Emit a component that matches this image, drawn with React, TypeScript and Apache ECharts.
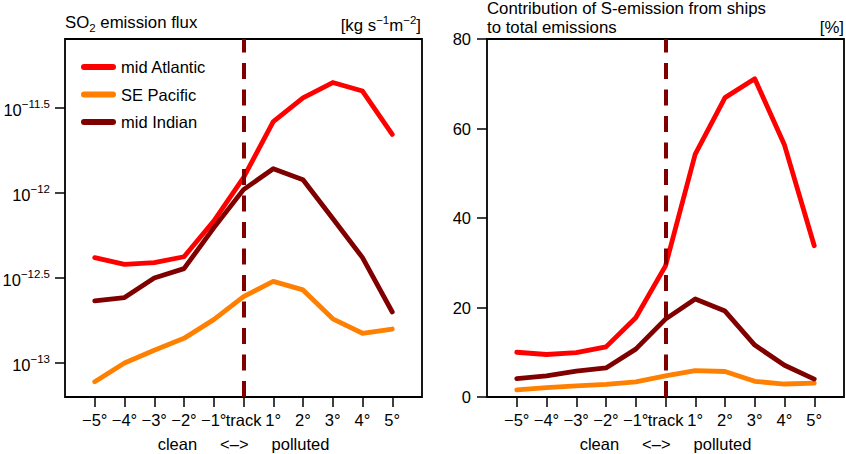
import React, { useEffect, useRef } from "react";
import * as echarts from "echarts";

const FONT = '"Liberation Sans", Arial, Helvetica, sans-serif';

// degrees of latitude away from the ship track
const offsets = [-5, -4, -3, -2, -1, 0, 1, 2, 3, 4, 5];
const offsetLabels = ["−5°", "−4°", "−3°", "−2°", "−1°", "track", "1°", "2°", "3°", "4°", "5°"];

const seriesNames = ["mid Atlantic", "SE Pacific", "mid Indian"];
const colors = ["#ff0000", "#ff8000", "#800000"];

// log10 of the SO2 emission flux [kg s-1 m-2]
const fluxAtlantic = [-12.38, -12.42, -12.41, -12.375, -12.165, -11.91, -11.58, -11.44, -11.35, -11.4, -11.655];
const fluxPacific = [-13.11, -13.0, -12.925, -12.855, -12.745, -12.61, -12.52, -12.57, -12.74, -12.825, -12.8];
const fluxIndian = [-12.635, -12.615, -12.5, -12.445, -12.205, -11.98, -11.857, -11.922, -12.15, -12.38, -12.7];
const fluxTicks = [-13, -12.5, -12, -11.5];

// contribution of S-emission from ships to total emissions [%]
const shareAtlantic = [10.0, 9.5, 9.9, 11.2, 17.7, 29.3, 54.3, 66.9, 71.1, 56.3, 33.8];
const sharePacific = [1.6, 2.1, 2.5, 2.8, 3.4, 4.7, 5.9, 5.7, 3.5, 2.9, 3.1];
const shareIndian = [4.1, 4.7, 5.8, 6.5, 10.7, 17.4, 21.9, 19.2, 11.6, 7.1, 4.0];
const shareTicks = [0, 20, 40, 60, 80];

const toPairs = (vals: number[]) => offsets.map((x, i) => [x, vals[i]]);

const lineSeries = (name: string, color: string, vals: number[], k: number) => ({
  name,
  type: "line",
  xAxisIndex: k,
  yAxisIndex: k,
  data: toPairs(vals),
  symbol: "none",
  z: 3,
  lineStyle: { color, width: 4.8, cap: "round", join: "round" },
  itemStyle: { color },
});

const trackLine = (k: number) => ({
  type: "line",
  xAxisIndex: k,
  yAxisIndex: k,
  data: [],
  z: 5,
  silent: true,
  markLine: {
    symbol: "none",
    silent: true,
    animation: false,
    label: { show: false },
    lineStyle: { color: "#800000", width: 4, type: [16, 10.5], cap: "butt" },
    data: [{ xAxis: 0 }],
  },
});

const tickText = { color: "#000", fontSize: 16.5, fontFamily: FONT, fontWeight: "normal" };
const titleText = { color: "#000", fontSize: 16.8, fontFamily: FONT, fontWeight: "normal" };
const tickStyle = { color: "#000", width: 1.5 };
const TICK_LEN = 10;

const xAxisFor = (k: number) => ({
  type: "value",
  gridIndex: k,
  position: "bottom",
  min: -6,
  max: 6,
  axisLine: { show: false, onZero: false },
  splitLine: { show: false },
  axisTick: { show: true, length: TICK_LEN, customValues: offsets, lineStyle: tickStyle },
  axisLabel: {
    ...tickText,
    margin: 14,
    customValues: offsets,
    formatter: (v: number) => offsetLabels[offsets.indexOf(v)] ?? "",
  },
  name: "{t|clean}{m|<–>}{t|polluted}",
  nameLocation: "middle",
  nameGap: 37,
  nameTextStyle: {
    rich: {
      t: { ...tickText, lineHeight: 20 },
      m: { ...tickText, lineHeight: 20, padding: [0, 23, 0, 23] },
    },
  },
});

const App: React.FC = () => {
  const chartRef = useRef<HTMLDivElement>(null);

  useEffect(() => {
    if (!chartRef.current) return;
    const chart = echarts.init(chartRef.current, undefined, { renderer: "svg" });
    const gridBase = {
      top: 39,
      width: 357,
      height: 358,
      show: true,
      borderColor: "#000",
      borderWidth: 1.8,
      backgroundColor: "transparent",
      outerBoundsMode: "none",
    };
    const option = {
      animation: false,
      title: [
        {
          text: "{a|SO}{b|2}{a| emission flux}",
          left: 65,
          top: 14,
          padding: 0,
          textStyle: {
            ...titleText,
            rich: {
              a: { ...titleText, lineHeight: 20, verticalAlign: "top" },
              b: { ...titleText, fontSize: 11.5, lineHeight: 8, verticalAlign: "bottom" },
            },
          },
        },
        {
          text: "{a|[kg s}{s|−1}{a|m}{s|−2}{a|]}",
          right: 425,
          top: 14,
          padding: 0,
          textStyle: {
            ...titleText,
            rich: {
              a: { ...titleText, lineHeight: 20, verticalAlign: "bottom" },
              s: { ...titleText, fontSize: 11.5, lineHeight: 10, verticalAlign: "top" },
            },
          },
        },
        {
          text: "Contribution of S-emission from ships\nto total emissions",
          left: 487,
          top: -1.5,
          padding: 0,
          textStyle: { ...titleText, lineHeight: 19 },
        },
        {
          text: "[%]",
          right: 2,
          top: 17.5,
          padding: 0,
          textStyle: { ...titleText, lineHeight: 19 },
        },
      ],
      legend: {
        data: seriesNames,
        left: 81,
        top: 57,
        orient: "vertical",
        padding: 0,
        itemWidth: 35,
        itemHeight: 6,
        itemGap: 7.5,
        icon: "path://M3,0H32A3,3,0,0,1,32,6H3A3,3,0,0,1,3,0Z",
        itemStyle: { borderWidth: 0 },
        selectedMode: false,
        textStyle: { ...tickText, lineHeight: 20 },
      },
      grid: [
        { ...gridBase, left: 65 },
        { ...gridBase, left: 487 },
      ],
      xAxis: [xAxisFor(0), xAxisFor(1)],
      yAxis: [
        {
          type: "value",
          gridIndex: 0,
          min: -13.2,
          max: -11.094,
          axisLine: { show: false, onZero: false },
          splitLine: { show: false },
          axisTick: { show: true, length: TICK_LEN, customValues: fluxTicks, lineStyle: tickStyle },
          axisLabel: {
            margin: 15,
            customValues: fluxTicks,
            formatter: (v: number) => `{b|10}{s|−${Math.abs(v)}}`,
            rich: {
              b: { ...tickText, lineHeight: 20, verticalAlign: "bottom" },
              s: { ...tickText, fontSize: 11.5, lineHeight: 3, verticalAlign: "top" },
            },
          },
        },
        {
          type: "value",
          gridIndex: 1,
          min: 0,
          max: 80,
          axisLine: { show: false, onZero: false },
          splitLine: { show: false },
          axisTick: { show: true, length: TICK_LEN, customValues: shareTicks, lineStyle: tickStyle },
          axisLabel: { ...tickText, margin: 16, customValues: shareTicks },
        },
      ],
      series: [
        lineSeries(seriesNames[0], colors[0], fluxAtlantic, 0),
        lineSeries(seriesNames[1], colors[1], fluxPacific, 0),
        lineSeries(seriesNames[2], colors[2], fluxIndian, 0),
        trackLine(0),
        lineSeries(seriesNames[0], colors[0], shareAtlantic, 1),
        lineSeries(seriesNames[1], colors[1], sharePacific, 1),
        lineSeries(seriesNames[2], colors[2], shareIndian, 1),
        trackLine(1),
      ],
    };
    chart.setOption(option as any);
    return () => chart.dispose();
  }, []);

  return (
    <div
      ref={chartRef}
      style={{ position: "absolute", left: 0, top: 0, width: "846px", height: "454px" }}
    ></div>
  );
};

export default App;
